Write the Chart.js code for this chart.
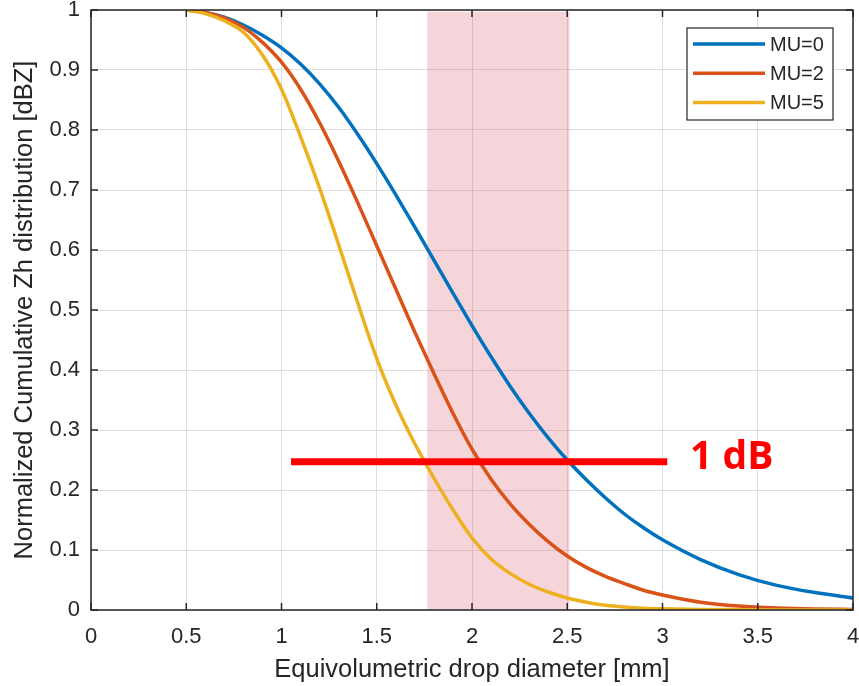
<!DOCTYPE html>
<html><head><meta charset="utf-8">
<script src="https://cdn.jsdelivr.net/npm/chart.js@4.4.1/dist/chart.umd.min.js"></script>
<style>html,body{margin:0;padding:0;background:#fff;}canvas{display:block;}</style>
</head><body>
<canvas id="c" width="859" height="686"></canvas>
<script>
const X_TICKS = [0, 0.5, 1, 1.5, 2, 2.5, 3, 3.5, 4];
const X_TICK_LABELS = ['0', '0.5', '1', '1.5', '2', '2.5', '3', '3.5', '4'];
const Y_TICKS = [0, 0.1, 0.2, 0.3, 0.4, 0.5, 0.6, 0.7, 0.8, 0.9, 1];
const Y_TICK_LABELS = ['0', '0.1', '0.2', '0.3', '0.4', '0.5', '0.6', '0.7', '0.8', '0.9', '1'];
const X_TITLE = 'Equivolumetric drop diameter [mm]';
const Y_TITLE = 'Normalized Cumulative Zh distribution [dBZ]';
const SERIES_LABELS = ['MU=0', 'MU=2', 'MU=5'];
const DIAMETER = [0.5, 0.6, 0.7, 0.8, 0.9, 1.0, 1.1, 1.2, 1.3, 1.4, 1.5, 1.6, 1.7, 1.8, 1.9, 2.0,
                  2.1, 2.2, 2.3, 2.4, 2.5, 2.6, 2.7, 2.8, 2.9, 3.0, 3.2, 3.4, 3.6, 3.8, 4.0];
const MU0 = [1.0, 0.996, 0.988, 0.975, 0.958, 0.937, 0.910, 0.877, 0.838, 0.793, 0.744, 0.692, 0.638, 0.583, 0.528, 0.474,
             0.422, 0.373, 0.328, 0.287, 0.250, 0.217, 0.187, 0.160, 0.137, 0.117, 0.084, 0.059, 0.041, 0.029, 0.020];
const MU2 = [1.0, 0.996, 0.987, 0.971, 0.946, 0.913, 0.868, 0.812, 0.748, 0.679, 0.607, 0.535, 0.463, 0.394, 0.328, 0.268,
             0.218, 0.177, 0.143, 0.114, 0.090, 0.071, 0.056, 0.044, 0.033, 0.025, 0.013, 0.0065, 0.0033, 0.0017, 0.001];
const MU5 = [1.0, 0.994, 0.982, 0.963, 0.925, 0.868, 0.789, 0.703, 0.609, 0.512, 0.419, 0.342, 0.277, 0.220, 0.167, 0.120,
             0.085, 0.061, 0.043, 0.030, 0.020, 0.013, 0.008, 0.005, 0.003, 0.002, 0.001, 0.0005, 0, 0, 0];
const SHADE_RANGE = [1.765, 2.512];
const SHADE_TOP = 0.997;
const MARK_X = [1.05, 3.025];
const MARK_Y = 0.247;
const MARK_LABEL = '1 dB';
const MARK_LABEL_X = 3.145;

const COLORS = ['#0072BD', '#D95319', '#EDB120'];
const AXIS_COLOR = '#262626';
const FONT = '"Liberation Sans", Arial, sans-serif';

function pts(xs, ys) { return xs.map((x, i) => ({x: x, y: ys[i]})); }

const seriesData = [MU0, MU2, MU5];
const datasets = seriesData.map((ys, i) => ({
  label: SERIES_LABELS[i],
  data: pts(DIAMETER, ys),
  borderColor: COLORS[i],
  borderWidth: 3.5,
  pointRadius: 0,
  cubicInterpolationMode: 'monotone',
  fill: false,
  order: 3 - i
}));
datasets.push({
  label: '__mark',
  data: MARK_X.map(x => ({x: x, y: MARK_Y})),
  borderColor: '#FF0000',
  borderWidth: 7,
  pointRadius: 0,
  borderCapStyle: 'butt',
  fill: false,
  order: 0
});

const overlay = {
  id: 'overlay',
  beforeDatasetsDraw(chart) {
    const {ctx, scales: {x, y}} = chart;
    const l = x.getPixelForValue(SHADE_RANGE[0]), r = x.getPixelForValue(SHADE_RANGE[1]);
    const t = y.getPixelForValue(SHADE_TOP), b = y.getPixelForValue(0);
    ctx.save();
    ctx.fillStyle = 'rgba(214,80,98,0.24)';
    ctx.fillRect(l, t, r - l, b - t);
    ctx.restore();
  },
  afterDraw(chart) {
    const {ctx, chartArea: a, scales: {x, y}} = chart;
    ctx.save();
    ctx.strokeStyle = AXIS_COLOR;
    ctx.lineWidth = 1.5;
    ctx.strokeRect(a.left, a.top, a.right - a.left, a.bottom - a.top);
    const TL = 7;
    ctx.beginPath();
    X_TICKS.forEach(v => {
      const px = x.getPixelForValue(v);
      ctx.moveTo(px, a.bottom); ctx.lineTo(px, a.bottom - TL);
      ctx.moveTo(px, a.top); ctx.lineTo(px, a.top + TL);
    });
    Y_TICKS.forEach(v => {
      const py = y.getPixelForValue(v);
      ctx.moveTo(a.left, py); ctx.lineTo(a.left + TL, py);
      ctx.moveTo(a.right, py); ctx.lineTo(a.right - TL, py);
    });
    ctx.stroke();
    ctx.fillStyle = '#FF0000';
    ctx.font = 'bold 39px "Open Sans", "Noto Sans", sans-serif';
    ctx.textAlign = 'left';
    ctx.textBaseline = 'middle';
    ctx.fillText(MARK_LABEL, x.getPixelForValue(MARK_LABEL_X), y.getPixelForValue(MARK_Y) - 4);
    const bw = 146, bh = 92;
    const bx = a.right - 20 - bw, by = a.top + 18;
    ctx.fillStyle = '#ffffff';
    ctx.fillRect(bx, by, bw, bh);
    ctx.strokeStyle = AXIS_COLOR;
    ctx.lineWidth = 1.2;
    ctx.strokeRect(bx, by, bw, bh);
    ctx.font = '20px ' + FONT;
    ctx.textBaseline = 'middle';
    chart.data.datasets.filter(d => SERIES_LABELS.includes(d.label)).forEach((d, i) => {
      const ly = by + 16 + i * 29.3;
      ctx.strokeStyle = d.borderColor;
      ctx.lineWidth = 3.5;
      ctx.beginPath();
      ctx.moveTo(bx + 6, ly); ctx.lineTo(bx + 78, ly);
      ctx.stroke();
      ctx.fillStyle = AXIS_COLOR;
      ctx.fillText(d.label, bx + 83, ly + 1);
    });
    ctx.restore();
  }
};

new Chart(document.getElementById('c'), {
  type: 'line',
  data: {datasets: datasets},
  options: {
    responsive: false,
    animation: false,
    devicePixelRatio: 1,
    layout: {padding: {top: 10, right: 6, left: 0, bottom: 0}},
    plugins: {legend: {display: false}, tooltip: {enabled: false}},
    scales: {
      x: {
        type: 'linear', min: 0, max: 4,
        afterBuildTicks: s => { s.ticks = X_TICKS.map(v => ({value: v})); },
        afterFit: s => { s.height = 76; s.paddingLeft = 0; s.paddingRight = 0; },
        ticks: {
          callback: (v) => X_TICK_LABELS[X_TICKS.indexOf(v)],
          color: AXIS_COLOR, font: {family: FONT, size: 22}, padding: 14, maxRotation: 0, autoSkip: false
        },
        grid: {color: '#dedede', lineWidth: 1, drawTicks: false},
        border: {display: false},
        title: {display: true, text: X_TITLE, color: AXIS_COLOR, font: {family: FONT, size: 25.5}, padding: {top: 0, bottom: 1}}
      },
      y: {
        type: 'linear', min: 0, max: 1,
        afterBuildTicks: s => { s.ticks = Y_TICKS.map(v => ({value: v})); },
        afterFit: s => { s.width = 91; s.paddingTop = 0; s.paddingBottom = 0; },
        ticks: {
          callback: (v) => Y_TICK_LABELS[Y_TICKS.findIndex(t => Math.abs(t - v) < 1e-9)],
          color: AXIS_COLOR, font: {family: FONT, size: 22}, padding: 11, autoSkip: false
        },
        grid: {color: '#dedede', lineWidth: 1, drawTicks: false},
        border: {display: false},
        title: {display: true, text: Y_TITLE, color: AXIS_COLOR, font: {family: FONT, size: 25.5}, padding: {top: 10, bottom: 0}}
      }
    }
  },
  plugins: [overlay]
});
</script>
</body></html>
